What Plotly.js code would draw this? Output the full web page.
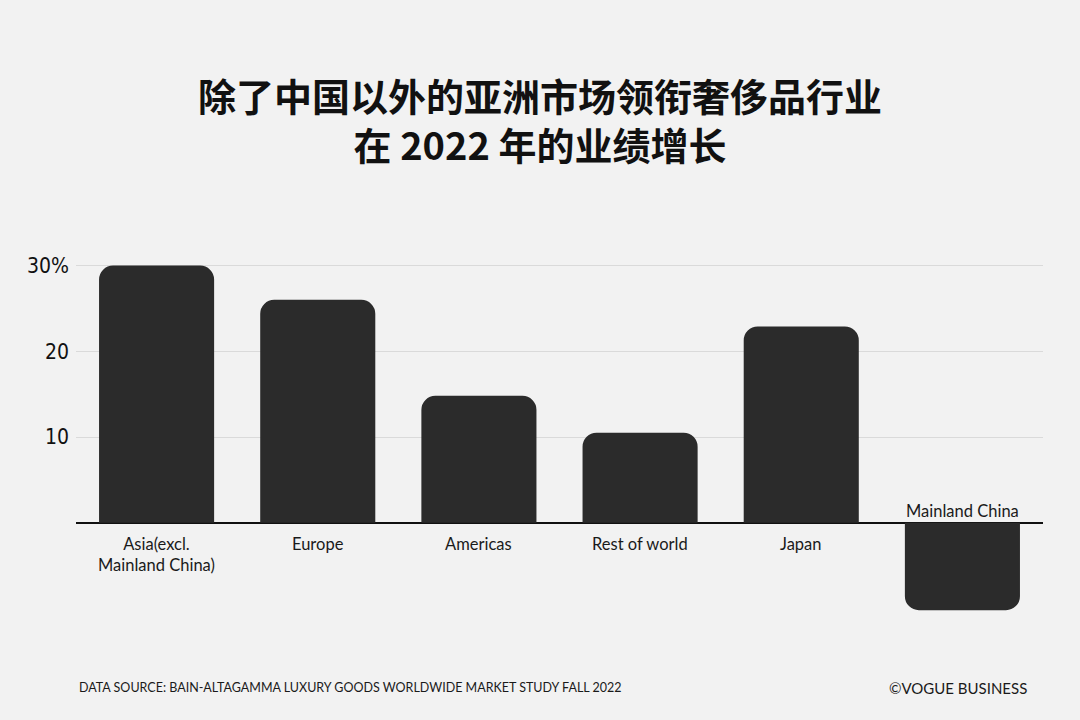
<!DOCTYPE html>
<html><head><meta charset="utf-8">
<script src="https://cdn.plot.ly/plotly-3.0.1.min.js"></script>
<style>html,body{margin:0;padding:0;background:#f2f2f2;}</style>
</head><body>
<div id="chart" style="width:1080px;height:720px;"></div>
<script>
const categories = ["Asia(excl.<br>Mainland China)", "Europe", "Americas", "Rest of world", "Japan", "Mainland China"];
const growth = [30, 26, 14.8, 10.5, 22.9, -10.2];
const tickValues = [10, 20, 30];
const tickLabels = ["10", "20", "30%"];
const titleText = "除了中国以外的亚洲市场领衔奢侈品行业<br>在 2022 年的业绩增长";
const sourceText = "DATA SOURCE: BAIN-ALTAGAMMA LUXURY GOODS WORLDWIDE MARKET STUDY FALL 2022";
const creditText = "©VOGUE BUSINESS";

const labelFont = {family: "Lato, 'Open Sans', sans-serif", size: 16.5, color: "#1a1a1a"};
const annotations = categories.map((c, i) => ({
  x: i, y: 0, xref: "x", yref: "y", text: c, showarrow: false,
  yanchor: growth[i] >= 0 ? "top" : "bottom",
  yshift: growth[i] >= 0 ? -9 : 0,
  font: labelFont, align: "center"
}));
annotations.push({x: 0.001, y: -0.196, xref: "paper", yref: "paper", xanchor: "left", yanchor: "middle",
  text: sourceText, showarrow: false, font: {family: "Lato, sans-serif", size: 12.5, color: "#1a1a1a"}});
annotations.push({x: 0.9855, y: -0.196, xref: "paper", yref: "paper", xanchor: "right", yanchor: "middle",
  text: creditText, showarrow: false, font: {family: "Lato, sans-serif", size: 15, color: "#1a1a1a"}});

Plotly.newPlot("chart", [{
  type: "bar", x: categories.map((c, i) => i), y: growth,
  marker: {color: "#2b2b2b", cornerradius: 14},
  hoverinfo: "skip"
}], {
  width: 1080, height: 720,
  paper_bgcolor: "#f2f2f2", plot_bgcolor: "#f2f2f2",
  margin: {l: 76, r: 37, t: 257.4, b: 102.6},
  bargap: 0.286,
  showlegend: false,
  title: {text: titleText, x: 0.5, xanchor: "center", y: 0.846, yanchor: "middle",
    font: {family: "'Noto Sans CJK SC', sans-serif", size: 38, color: "#111", weight: 700}},
  xaxis: {range: [-0.5, 5.5], showticklabels: false, showgrid: false, zeroline: false, fixedrange: true},
  yaxis: {range: [-11, 31], tickvals: tickValues, ticktext: tickLabels, showgrid: true,
    gridcolor: "#dadada", gridwidth: 1, zeroline: true, zerolinecolor: "#111", zerolinewidth: 2,
    ticks: "", ticklabelstandoff: 6,
    tickfont: {family: "'DejaVu Sans Condensed', 'Liberation Sans Narrow', sans-serif", size: 21, color: "#111"}},
  annotations: annotations
}, {displayModeBar: false, staticPlot: true});
</script>
</body></html>
